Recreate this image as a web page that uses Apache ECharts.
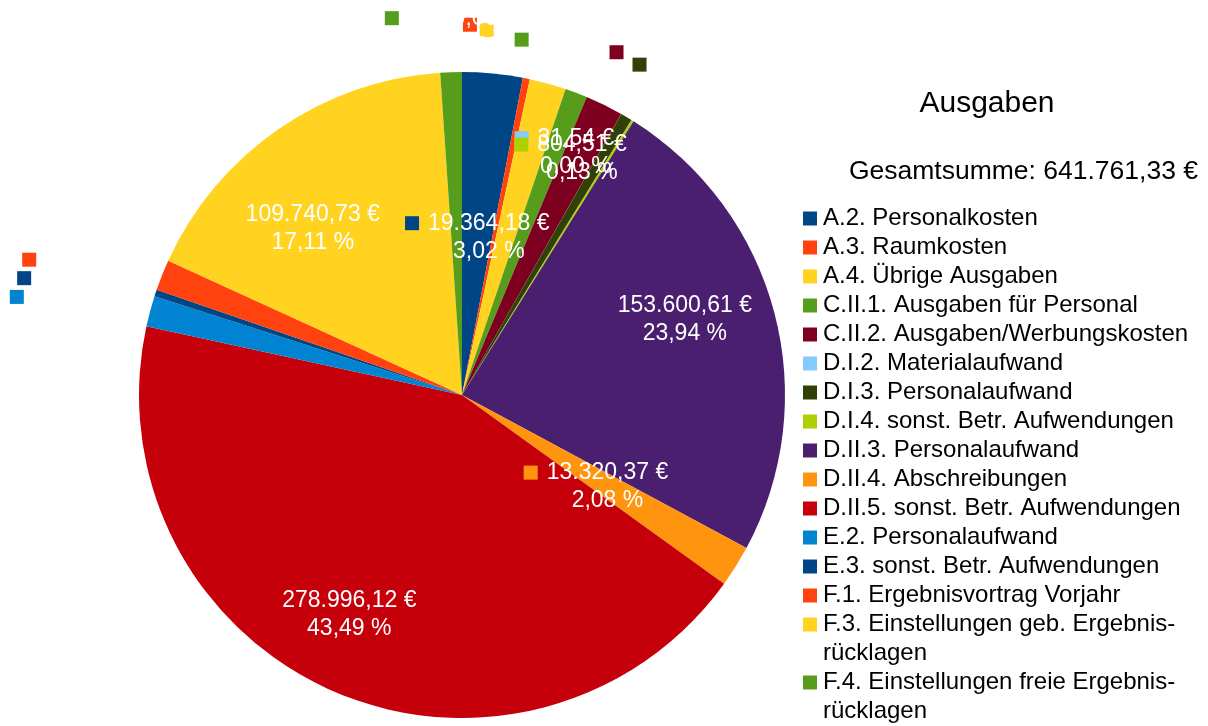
<!DOCTYPE html>
<html>
<head>
<meta charset="utf-8">
<script src="https://cdn.jsdelivr.net/npm/echarts@6/dist/echarts.min.js"></script>
<style>
  html, body { margin: 0; padding: 0; background: #fff; }
  #chart { width: 1208px; height: 726px; }
</style>
</head>
<body>
<div id="chart"></div>
<script>
// Ausgaben - pie
const categories = [
  'A.2. Personalkosten',
  'A.3. Raumkosten',
  'A.4. Übrige Ausgaben',
  'C.II.1. Ausgaben für Personal',
  'C.II.2. Ausgaben/Werbungskosten',
  'D.I.2. Materialaufwand',
  'D.I.3. Personalaufwand',
  'D.I.4. sonst. Betr. Aufwendungen',
  'D.II.3. Personalaufwand',
  'D.II.4. Abschreibungen',
  'D.II.5. sonst. Betr. Aufwendungen',
  'E.2. Personalaufwand',
  'E.3. sonst. Betr. Aufwendungen',
  'F.1. Ergebnisvortrag Vorjahr',
  'F.3. Einstellungen geb. Ergebnisrücklagen',
  'F.4. Einstellungen freie Ergebnisrücklagen'
];

const values = [
  19364.18, 2246, 11731, 7149, 12144, 31.54, 3722, 804.51,
  153600.61, 13320.37, 278996.12, 9820, 2118, 9870, 109740.73, 6900
];

const colors = [
  '#004586', '#ff420e', '#ffd320', '#579d1c', '#7e0021', '#83caff', '#314004', '#aecf00',
  '#4b1f6f', '#ff950e', '#c5000b', '#0084d1', '#004586', '#ff420e', '#ffd320', '#579d1c'
];

const chartTitle = 'Ausgaben';
const totalText = 'Gesamtsumme: 641.761,33 €';

// label placement per slice (LibreOffice put some inside, some outside)
const labelPlace = [
  { mode: 'in', k: 0.5, dy: 3 },
  { mode: 'out' }, { mode: 'out' }, { mode: 'out' }, { mode: 'out' },
  { mode: 'in', k: 0.8, dx: -25, dy: -18 },
  { mode: 'out' },
  { mode: 'in', k: 0.8, dx: -28, dy: -17 },
  { mode: 'in', k: 0.72, dx: -2, dy: -16 },
  { mode: 'in', k: 0.5, dx: -3, dy: 6 },
  { mode: 'in', k: 0.72, dx: -18, dy: 7 },
  { mode: 'out', dx: 3, dy: 3 }, { mode: 'out', dx: 3, dy: 3 }, { mode: 'out', dx: 3, dy: 3 },
  { mode: 'in', k: 0.72, dx: -17, dy: 25 },
  { mode: 'out' }
];

const CX = 462, CY = 395, R = 323, GAP = 12;
const FONT = 'Liberation Sans';

const total = values.reduce((a, b) => a + b, 0);
const midAngles = [];
let acc = 0;
values.forEach(v => {
  const a = v / total * 360;
  midAngles.push(acc + a / 2);
  acc += a;
});

function fmtNum(v) {
  const parts = v.toFixed(2).split('.');
  const int = parts[0].replace(/\B(?=(\d{3})+(?!\d))/g, '.');
  return int + ',' + parts[1];
}

const labelRich = {
  v: { color: '#fff', fontSize: 23, lineHeight: 28, fontFamily: FONT },
  p: { color: '#fff', fontSize: 23, lineHeight: 28, fontFamily: FONT, align: 'center' },
  g: { width: 9, lineHeight: 28 },
  pad: { width: 23, lineHeight: 28, align: 'center' }
};
const legendRich = {
  t: { color: '#000', fontSize: 24, lineHeight: 29, fontFamily: FONT },
  g: { width: 6, lineHeight: 29 },
  ind: { width: 20, lineHeight: 29 }
};
colors.forEach((c, i) => {
  labelRich['sq' + i] = { width: 14, height: 14, backgroundColor: c };
  legendRich['sq' + i] = { width: 14, height: 14, backgroundColor: c };
});

const octAlign = [
  ['center', 'bottom'], ['left', 'bottom'], ['left', 'middle'], ['left', 'top'],
  ['center', 'top'], ['right', 'top'], ['right', 'middle'], ['right', 'bottom']
];

const container = document.getElementById('chart');
const chart = echarts.init(container, null, { renderer: 'canvas', width: 1208, height: 726 });

const option = {
  animation: false,
  color: colors,
  graphic: [
    {
      type: 'text', x: 987, y: 104,
      style: { text: chartTitle, font: '30px "Liberation Sans"', fill: '#000', align: 'center', verticalAlign: 'middle' }
    },
    {
      type: 'text', x: 1198, y: 172,
      style: { text: totalText, font: '26.5px "Liberation Sans"', fill: '#000', align: 'right', verticalAlign: 'middle' }
    }
  ],
  legend: {
    orient: 'vertical',
    left: 798,
    top: 204,
    height: 700,
    padding: 0,
    itemGap: 0,
    itemWidth: 0,
    itemHeight: 0,
    icon: 'rect',
    selectedMode: false,
    data: categories,
    formatter: name => {
      const i = categories.indexOf(name);
      const lines = name.replace('Ergebnisrücklagen', 'Ergebnis-\nrücklagen').split('\n');
      let s = '{sq' + i + '| }{g| }{t|' + lines[0] + '}';
      for (let k = 1; k < lines.length; k++) s += '\n{ind| }{t|' + lines[k] + '}';
      return s;
    },
    textStyle: { fontSize: 24, lineHeight: 29, fontFamily: FONT, rich: legendRich }
  },
  series: [{
    type: 'pie',
    center: [CX, CY],
    radius: R,
    startAngle: 90,
    clockwise: true,
    avoidLabelOverlap: false,
    itemStyle: { borderWidth: 0 },
    emphasis: { disabled: true },
    labelLine: { show: false },
    label: {
      show: true,
      position: 'inside',
      fontFamily: FONT,
      fontSize: 23,
      lineHeight: 28,
      color: '#fff',
      rich: labelRich,
      formatter: p => {
        const pct = (p.value / total * 100).toFixed(2).replace('.', ',') + ' %';
        const val = fmtNum(p.value) + ' €';
        if (p.value / total >= 0.1) {
          return '{v|' + val + '}\n{p|' + pct + '}';
        }
        return '{sq' + p.dataIndex + '| }{g| }{v|' + val + '}\n{pad| }{p|' + pct + '}';
      }
    },
    labelLayout: params => {
      const i = params.dataIndex;
      const rad = midAngles[i] * Math.PI / 180;
      const sx = Math.sin(rad), sy = -Math.cos(rad);
      const pl = labelPlace[i];
      if (pl.mode === 'in') {
        return {
          x: CX + sx * R * pl.k + (pl.dx || 0),
          y: CY + sy * R * pl.k + (pl.dy || 0),
          align: 'center',
          verticalAlign: 'middle'
        };
      }
      const oct = ((Math.round(midAngles[i] / 45) % 8) + 8) % 8;
      return {
        x: CX + sx * (R + GAP) + (pl.dx || 0),
        y: CY + sy * (R + GAP) + (pl.dy || 0),
        align: octAlign[oct][0],
        verticalAlign: octAlign[oct][1]
      };
    },
    data: categories.map((name, i) => ({ name: name, value: values[i] }))
  }]
};

chart.setOption(option);
</script>
</body>
</html>
